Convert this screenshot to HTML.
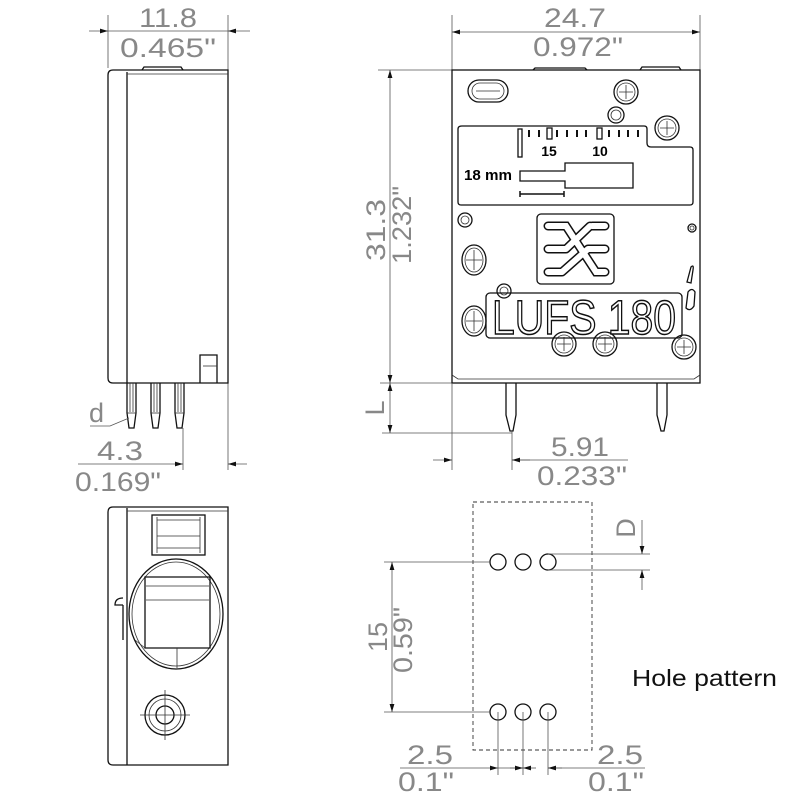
<!DOCTYPE html>
<html><head><style>
html,body{margin:0;padding:0;background:#fff;width:800px;height:800px;overflow:hidden}
svg{display:block}
.d{font-family:"Liberation Sans",sans-serif;fill:#888;font-size:27px;font-weight:normal}
.k{stroke:#111;fill:none;stroke-width:1.3}
.t{stroke:#333;fill:none;stroke-width:0.8}
.g{stroke:#555;fill:none;stroke-width:0.8}
</style></head><body>
<svg width="800" height="800" viewBox="0 0 800 800" xmlns="http://www.w3.org/2000/svg">
<defs>
<marker id="a" viewBox="0 0 10 6" refX="10" refY="3" markerWidth="10" markerHeight="6" orient="auto-start-reverse"><path d="M0,0L10,3L0,6z" fill="#111"/></marker>
</defs>

<!-- SIDE VIEW -->
<g>
<line class="g" x1="108" y1="15" x2="108" y2="68"/>
<line class="g" x1="228" y1="15" x2="228" y2="470"/>
<line class="g" x1="89" y1="31" x2="108" y2="31" marker-end="url(#a)"/>
<line class="g" x1="250" y1="31" x2="228" y2="31" marker-end="url(#a)"/>
<line class="g" x1="108" y1="31" x2="228" y2="31"/>
<text class="d" x="168" y="27" text-anchor="middle" textLength="58" lengthAdjust="spacingAndGlyphs">11.8</text>
<text class="d" x="168" y="57" text-anchor="middle" textLength="96" lengthAdjust="spacingAndGlyphs">0.465"</text>

<path class="k" d="M113,70 H228 V383 H113 Q108,383 108,378 V75 Q108,70 113,70Z"/>
<line class="k" x1="127" y1="72" x2="127" y2="383"/>
<line class="t" x1="127" y1="74" x2="228" y2="74"/>
<path class="k" d="M142,70 L144,67 H181 L183,70"/>
<path class="k" d="M200,383 V355 H217 V383"/>
<line class="t" x1="203" y1="366" x2="217" y2="366"/>
<g class="k">
<path d="M127,383 V413 L129,428 H134 L136,413 V383"/>
<path d="M151,383 V413 L153,428 H158 L160,413 V383"/>
<path d="M175,383 V413 L177,428 H182 L184,413 V383"/>
</g>
<g class="t">
<line x1="130" y1="383" x2="130" y2="412"/><line x1="133" y1="383" x2="133" y2="412"/>
<line x1="154" y1="383" x2="154" y2="412"/><line x1="157" y1="383" x2="157" y2="412"/>
<line x1="178" y1="383" x2="178" y2="412"/><line x1="181" y1="383" x2="181" y2="412"/>
<line x1="127" y1="413" x2="136" y2="413"/><line x1="151" y1="413" x2="160" y2="413"/><line x1="175" y1="413" x2="184" y2="413"/>
</g>
<text class="d" x="89" y="422" font-size="22">d</text>
<path class="g" d="M90,426 H110 L129,418"/>
<line class="g" x1="183" y1="428" x2="183" y2="470"/>
<line class="g" x1="78" y1="464" x2="183" y2="464" marker-end="url(#a)"/>
<line class="g" x1="247" y1="464" x2="228" y2="464" marker-end="url(#a)"/>
<text class="d" x="120" y="460" text-anchor="middle" textLength="46" lengthAdjust="spacingAndGlyphs">4.3</text>
<text class="d" x="118" y="491" text-anchor="middle" textLength="86" lengthAdjust="spacingAndGlyphs">0.169"</text>
</g>

<!-- FRONT VIEW -->
<g>
<line class="g" x1="452" y1="15" x2="452" y2="70"/>
<line class="g" x1="700" y1="15" x2="700" y2="70"/>
<line class="g" x1="452" y1="32" x2="700" y2="32" marker-start="url(#a)" marker-end="url(#a)"/>
<text class="d" x="575" y="27" text-anchor="middle" textLength="62" lengthAdjust="spacingAndGlyphs">24.7</text>
<text class="d" x="578" y="56" text-anchor="middle" textLength="90" lengthAdjust="spacingAndGlyphs">0.972"</text>

<line class="g" x1="378" y1="70" x2="452" y2="70"/>
<line class="g" x1="380" y1="383" x2="452" y2="383"/>
<line class="g" x1="390" y1="70" x2="390" y2="383" marker-start="url(#a)" marker-end="url(#a)"/>
<text class="d" transform="translate(385,230) rotate(-90)" text-anchor="middle" textLength="62" lengthAdjust="spacingAndGlyphs">31.3</text>
<text class="d" transform="translate(411,225) rotate(-90)" text-anchor="middle" textLength="78" lengthAdjust="spacingAndGlyphs">1.232"</text>
<line class="g" x1="382" y1="433" x2="512" y2="433"/>
<line class="g" x1="390" y1="383" x2="390" y2="433" marker-start="url(#a)" marker-end="url(#a)"/>
<text class="d" transform="translate(384,408) rotate(-90)" text-anchor="middle" font-size="22">L</text>

<rect class="k" x="452" y="70" width="248" height="313"/>
<path class="t" d="M452,375 L458,379 H694 L700,375"/>
<path class="k" d="M533,70 L535,68 H585 L587,70"/>
<path class="k" d="M640,70 L642,67 H679 L681,70"/>
<path class="k" d="M506,383 V415 L510,431 H513 L516,415 V383"/>
<path class="k" d="M657,383 V415 L661,431 H664 L667,415 V383"/>

<line class="g" x1="452" y1="383" x2="452" y2="470"/>
<line class="g" x1="512" y1="431" x2="512" y2="470"/>
<line class="g" x1="433" y1="460" x2="452" y2="460" marker-end="url(#a)"/>
<line class="g" x1="628" y1="460" x2="512" y2="460"/>
<line class="g" x1="530" y1="460" x2="512" y2="460" marker-end="url(#a)"/>
<text class="d" x="580" y="456" text-anchor="middle" textLength="58" lengthAdjust="spacingAndGlyphs">5.91</text>
<text class="d" x="582" y="485" text-anchor="middle" textLength="90" lengthAdjust="spacingAndGlyphs">0.233"</text>

<rect class="k" x="468" y="80" width="40" height="22" rx="11"/>
<rect class="t" x="472" y="83" width="32" height="16" rx="8"/>
<line class="t" x1="476" y1="91" x2="500" y2="91"/>
<g class="k">
<circle cx="626" cy="92" r="12"/><circle cx="616" cy="115" r="8"/><circle cx="667" cy="128" r="12"/>
<circle cx="465" cy="220" r="7"/><circle cx="692" cy="228" r="4"/>
<circle cx="504" cy="291" r="7"/>
<circle cx="564" cy="344" r="12"/><circle cx="605" cy="344" r="12"/><circle cx="684" cy="347" r="12"/>
<ellipse cx="474" cy="260" rx="12" ry="15"/><ellipse cx="474" cy="321" rx="12" ry="15"/>
</g>
<g class="t">
<circle cx="626" cy="92" r="9"/><circle cx="667" cy="128" r="9"/><circle cx="616" cy="115" r="5"/>
<circle cx="564" cy="344" r="9"/><circle cx="605" cy="344" r="9"/><circle cx="684" cy="347" r="9"/>
<circle cx="692" cy="228" r="2"/><circle cx="465" cy="220" r="4"/><circle cx="504" cy="291" r="4"/>
<ellipse cx="474" cy="260" rx="9" ry="12"/><ellipse cx="474" cy="321" rx="9" ry="12"/>
<path d="M619,92H633M626,85V99M660,128H674M667,121V135M557,344H571M564,337V351M598,344H612M605,337V351M677,347H691M684,340V354M466,260H482M474,250V270M466,321H482M474,311V331"/>
</g>
<path class="k" d="M687,282 L691,267 Q694,264 693,270 L691,283Z"/>
<path class="k" d="M686,308 L688,292 Q692,287 695,292 L694,306 Q690,312 686,308Z"/>

<path class="k" d="M462,126 H644 Q647,126 647,129 V143 Q647,147 651,147 H690 Q693,147 693,150 V202 Q693,205 690,205 H461 Q458,205 458,202 V129 Q458,126 462,126Z"/>
<rect class="k" x="518" y="129" width="4" height="28"/>
<g stroke="#111" stroke-width="2">
<path d="M529,130V137M539,130V137M557,130V137M567,130V137M577,130V137M586,130V137M609,130V137M619,130V137M628,130V137M638,130V137"/>
</g>
<rect class="k" x="547" y="128" width="5" height="11"/>
<rect class="k" x="597" y="128" width="5" height="11"/>
<text x="549" y="156" font-family="Liberation Sans,sans-serif" font-weight="bold" font-size="14" text-anchor="middle">15</text>
<text x="600" y="156" font-family="Liberation Sans,sans-serif" font-weight="bold" font-size="14" text-anchor="middle">10</text>
<text x="464" y="180" font-family="Liberation Sans,sans-serif" font-weight="bold" font-size="15" textLength="48" lengthAdjust="spacingAndGlyphs">18 mm</text>
<path class="k" d="M520,171 H565 V163 H633 V188 H565 V181 H520Z"/>
<path stroke="#111" stroke-width="1.5" d="M520,194H564M520,191V197M564,191V197"/>

<rect class="k" x="537" y="214" width="77" height="70" rx="4"/>
<g stroke="#111" stroke-width="9" fill="none" stroke-linecap="round"><path d="M548,226H566L596,272H605M548,249H566M588,249H605M548,272H562M592,226H605M566,249L590,226M562,272L588,249"/></g>
<g stroke="#fff" stroke-width="6" fill="none" stroke-linecap="round"><path d="M548,226H566L596,272H605M548,249H566M588,249H605M548,272H562M592,226H605M566,249L590,226M562,272L588,249"/></g>

<rect class="k" x="486" y="293" width="196" height="45" rx="4"/>
<text x="584" y="334" font-family="Liberation Sans,sans-serif" font-size="48" text-anchor="middle" fill="#fff" stroke="#111" stroke-width="1.5" textLength="184" lengthAdjust="spacingAndGlyphs">LUFS 180</text>
</g>

<!-- BOTTOM VIEW -->
<g>
<path class="k" d="M113,507 H228 V765 H113 Q108,765 108,760 V512 Q108,507 113,507Z"/>
<line class="k" x1="127" y1="508" x2="127" y2="765"/>
<line class="t" x1="127" y1="511" x2="228" y2="511"/>
<rect class="k" x="152" y="515" width="53" height="40"/>
<path class="t" d="M157,520H200M157,536H200M157,548H200M157,517V553M200,517V553"/>
<ellipse class="k" cx="176" cy="614" rx="47" ry="55"/>
<ellipse class="t" cx="176" cy="614" rx="44" ry="52"/>
<path class="k" d="M145,577H210V648H145Z"/>
<path class="t" d="M146,586H209M146,600H209M177,648V668M145,648L135,640"/>
<path class="k" d="M123,598 Q115,598 115,605 H123 M123,605V640"/>
<circle class="k" cx="165" cy="715" r="20"/>
<circle class="t" cx="165" cy="715" r="16"/>
<circle class="k" cx="165" cy="715" r="9"/>
<path class="t" d="M140,715H190M165,690V740"/>
</g>

<!-- HOLE PATTERN -->
<g>
<rect x="473" y="502" width="119" height="248" fill="none" stroke="#333" stroke-width="0.9" stroke-dasharray="4,3"/>
<g class="k" stroke-width="1.8">
<circle cx="498" cy="562" r="8"/><circle cx="523" cy="562" r="8"/><circle cx="548" cy="562" r="8"/>
<circle cx="498" cy="712" r="8"/><circle cx="523" cy="712" r="8"/><circle cx="548" cy="712" r="8"/>
</g>
<path class="g" d="M384,562H490M384,712H490M548,554H650M548,570H650M498,712V775M523,712V775M548,712V775"/>
<line class="g" x1="392" y1="562" x2="392" y2="712" marker-start="url(#a)" marker-end="url(#a)"/>
<text class="d" transform="translate(387,637) rotate(-90)" text-anchor="middle" textLength="30" lengthAdjust="spacingAndGlyphs">15</text>
<text class="d" transform="translate(412,640) rotate(-90)" text-anchor="middle" textLength="66" lengthAdjust="spacingAndGlyphs">0.59"</text>
<line class="g" x1="642" y1="520" x2="642" y2="554" marker-end="url(#a)"/>
<line class="g" x1="642" y1="590" x2="642" y2="570" marker-end="url(#a)"/>
<text class="d" transform="translate(635,528) rotate(-90)" text-anchor="middle" font-size="22">D</text>
<line class="g" x1="400" y1="768" x2="498" y2="768" marker-end="url(#a)"/>
<line class="g" x1="498" y1="768" x2="523" y2="768"/>
<line class="g" x1="510" y1="768" x2="523" y2="768" marker-end="url(#a)"/>
<line class="g" x1="536" y1="768" x2="523" y2="768" marker-end="url(#a)"/>
<line class="g" x1="645" y1="768" x2="548" y2="768"/>
<line class="g" x1="562" y1="768" x2="548" y2="768" marker-end="url(#a)"/>
<text class="d" x="430" y="764" text-anchor="middle" textLength="46" lengthAdjust="spacingAndGlyphs">2.5</text>
<text class="d" x="426" y="791" text-anchor="middle" textLength="56" lengthAdjust="spacingAndGlyphs">0.1"</text>
<text class="d" x="620" y="764" text-anchor="middle" textLength="46" lengthAdjust="spacingAndGlyphs">2.5</text>
<text class="d" x="616" y="791" text-anchor="middle" textLength="56" lengthAdjust="spacingAndGlyphs">0.1"</text>
<text x="632" y="686" font-family="Liberation Sans,sans-serif" font-size="23" fill="#111" textLength="145" lengthAdjust="spacingAndGlyphs">Hole pattern</text>
</g>
</svg>
</body></html>
